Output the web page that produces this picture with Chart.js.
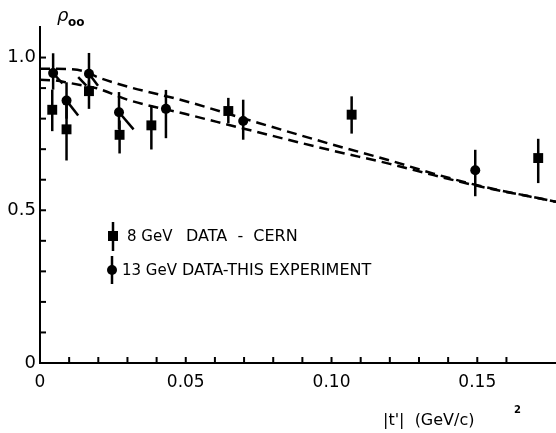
<!DOCTYPE html>
<html>
<head>
<meta charset="utf-8">
<script src="https://cdn.jsdelivr.net/npm/chart.js@4.4.0/dist/chart.umd.min.js"></script>
<style>
  html, body { margin: 0; padding: 0; background: #fff; }
  canvas { display: block; }
</style>
</head>
<body>
<canvas id="rho" width="556" height="433"></canvas>
<script>
// 8 GeV data - CERN (squares)
const cernT   = [0.0042, 0.0091, 0.0168, 0.0273, 0.0382, 0.0646, 0.1069, 0.1709];
const cernRho = [0.829, 0.765, 0.890, 0.747, 0.778, 0.825, 0.813, 0.671];
const cernLo  = [0.759, 0.663, 0.832, 0.686, 0.699, 0.785, 0.751, 0.589];
const cernHi  = [0.895, 0.854, 0.925, 0.794, 0.843, 0.868, 0.873, 0.734];

// 13 GeV data - this experiment (circles)
const ourT   = [0.0045, 0.0091, 0.0168, 0.0271, 0.0432, 0.0697, 0.1493];
const ourRho = [0.949, 0.859, 0.947, 0.821, 0.832, 0.792, 0.631];
const ourLo  = [0.895, 0.800, 0.908, 0.765, 0.736, 0.731, 0.546];
const ourHi  = [1.014, 0.919, 1.015, 0.887, 0.894, 0.862, 0.698];

// short slanted strokes next to the low-t circles
const tailT1   = [0.0045, 0.0091, 0.0168, 0.0131, 0.0271];
const tailRho1 = [0.949, 0.859, 0.947, 0.936, 0.821];
const tailT2   = [0.0077, 0.0131, 0.0199, 0.0159, 0.0321];
const tailRho2 = [0.915, 0.810, 0.908, 0.908, 0.765];

// dashed model curves
const curveT   = [0, 0.005, 0.01, 0.015, 0.02, 0.03, 0.05, 0.07, 0.10, 0.12, 0.135, 0.15, 0.177];
const upperRho = [0.963, 0.963, 0.962, 0.955, 0.935, 0.905, 0.857, 0.800, 0.716, 0.663, 0.620, 0.582, 0.528];
const lowerRho = [0.927, 0.925, 0.917, 0.908, 0.898, 0.862, 0.815, 0.767, 0.696, 0.652, 0.615, 0.580, 0.528];

// tick labels
const xTickLabels = { 0: '0', 5: '0.05', 10: '0.10', 15: '0.15' };   // key = t * 100
const yTickLabels = { 0: '0', 5: '0.5', 10: '1.0' };                 // key = rho * 10

const pts = (xs, ys) => xs.map((x, i) => ({ x: x, y: ys[i] }));

const decorations = {
  id: 'decorations',
  beforeDatasetsDraw(chart) {
    const ctx = chart.ctx, xs = chart.scales.x, ys = chart.scales.y;
    ctx.save();
    ctx.strokeStyle = '#000';
    ctx.lineWidth = 2.5;
    const bars = (t, lo, hi) => t.forEach((v, i) => {
      const px = xs.getPixelForValue(v);
      ctx.beginPath();
      ctx.moveTo(px, ys.getPixelForValue(lo[i]));
      ctx.lineTo(px, ys.getPixelForValue(hi[i]));
      ctx.stroke();
    });
    bars(cernT, cernLo, cernHi);
    bars(ourT, ourLo, ourHi);
    tailT1.forEach((v, i) => {
      ctx.beginPath();
      ctx.moveTo(xs.getPixelForValue(v), ys.getPixelForValue(tailRho1[i]));
      ctx.lineTo(xs.getPixelForValue(tailT2[i]), ys.getPixelForValue(tailRho2[i]));
      ctx.stroke();
    });
    ctx.restore();
  },
  afterDraw(chart) {
    const ctx = chart.ctx, xs = chart.scales.x, ys = chart.scales.y;
    const area = chart.chartArea;
    ctx.save();
    ctx.strokeStyle = '#000';
    ctx.fillStyle = '#000';
    ctx.lineWidth = 2;
    // ticks point inwards
    xs.ticks.forEach(tk => {
      const k = Math.round(tk.value * 100);
      if (k === 0 || Math.abs(tk.value * 100 - k) > 1e-6) return;
      const px = xs.getPixelForValue(tk.value);
      ctx.beginPath();
      ctx.moveTo(px, area.bottom);
      ctx.lineTo(px, area.bottom - 6);
      ctx.stroke();
    });
    ys.ticks.forEach(tk => {
      const k = Math.round(tk.value * 10);
      if (k === 0 || k > 10) return;
      const py = ys.getPixelForValue(tk.value);
      ctx.beginPath();
      ctx.moveTo(area.left, py);
      ctx.lineTo(area.left + 6, py);
      ctx.stroke();
    });

    // legend
    ctx.textBaseline = 'middle';
    ctx.textAlign = 'left';
    ctx.lineWidth = 2.5;
    ctx.beginPath();
    ctx.moveTo(113, 222); ctx.lineTo(113, 251);
    ctx.moveTo(112, 256); ctx.lineTo(112, 284);
    ctx.stroke();
    ctx.fillRect(108, 231, 10, 10);
    ctx.beginPath();
    ctx.arc(112, 270, 5, 0, Math.PI * 2);
    ctx.fill();
    ctx.font = '15px "DejaVu Sans"';
    ctx.fillText('8 GeV', 127, 237);
    ctx.fillText('13 GeV', 122, 271);
    ctx.font = '16px "DejaVu Sans"';
    ctx.fillText('DATA  -  CERN', 186, 237);
    ctx.fillText('DATA-THIS EXPERIMENT', 182, 271);

    // axis titles
    ctx.font = 'italic 18px "DejaVu Sans"';
    ctx.fillText('\u03C1', 57, 16);
    ctx.font = 'bold 12px "DejaVu Sans"';
    ctx.fillText('oo', 68, 23);
    ctx.font = '16px "DejaVu Sans"';
    ctx.fillText("|t'|  (GeV/c)", 383, 421);
    ctx.font = 'bold 10px "DejaVu Sans"';
    ctx.fillText('2', 514, 410);
    ctx.restore();
  }
};

const chart = new Chart(document.getElementById('rho'), {
  type: 'scatter',
  data: {
    datasets: [
      {
        label: '8 GeV DATA - CERN',
        data: pts(cernT, cernRho),
        pointStyle: 'rect',
        pointRadius: 7,
        backgroundColor: '#000',
        borderColor: '#000',
        borderWidth: 0
      },
      {
        label: '13 GeV DATA - THIS EXPERIMENT',
        data: pts(ourT, ourRho),
        pointStyle: 'circle',
        pointRadius: 5,
        backgroundColor: '#000',
        borderColor: '#000',
        borderWidth: 0
      },
      {
        type: 'line',
        data: pts(curveT, upperRho),
        borderColor: '#000',
        borderWidth: 2.5,
        borderDash: [10, 6],
        pointRadius: 0,
        cubicInterpolationMode: 'monotone',
        fill: false
      },
      {
        type: 'line',
        data: pts(curveT, lowerRho),
        borderColor: '#000',
        borderWidth: 2.5,
        borderDash: [10, 6],
        pointRadius: 0,
        cubicInterpolationMode: 'monotone',
        fill: false
      }
    ]
  },
  options: {
    responsive: false,
    animation: false,
    events: [],
    layout: { autoPadding: false, padding: { top: 27, right: 0, left: 0, bottom: 0 } },
    plugins: { legend: { display: false }, tooltip: { enabled: false } },
    scales: {
      x: {
        type: 'linear',
        min: 0,
        max: 0.177,
        afterFit: s => { s.height = 70; s.paddingLeft = 0; s.paddingRight = 0; },
        grid: { display: false, drawTicks: false },
        border: { color: '#000', width: 2 },
        ticks: {
          stepSize: 0.01,
          autoSkip: false,
          maxRotation: 0,
          padding: 9,
          color: '#000',
          font: { family: 'DejaVu Sans', size: 17 },
          callback: v => {
            const k = Math.round(v * 100);
            return Math.abs(v * 100 - k) < 1e-6 && xTickLabels[k] ? xTickLabels[k] : '';
          }
        }
      },
      y: {
        min: 0,
        max: 1.1,
        afterFit: s => { s.width = 40; s.paddingTop = 0; s.paddingBottom = 0; },
        grid: { display: false, drawTicks: false },
        border: { color: '#000', width: 2 },
        ticks: {
          stepSize: 0.1,
          autoSkip: false,
          padding: 4,
          color: '#000',
          font: { family: 'DejaVu Sans', size: 18 },
          callback: v => {
            const k = Math.round(v * 10);
            return Math.abs(v * 10 - k) < 1e-6 && yTickLabels[k] ? yTickLabels[k] : '';
          }
        }
      }
    }
  },
  plugins: [decorations]
});
</script>
</body>
</html>
